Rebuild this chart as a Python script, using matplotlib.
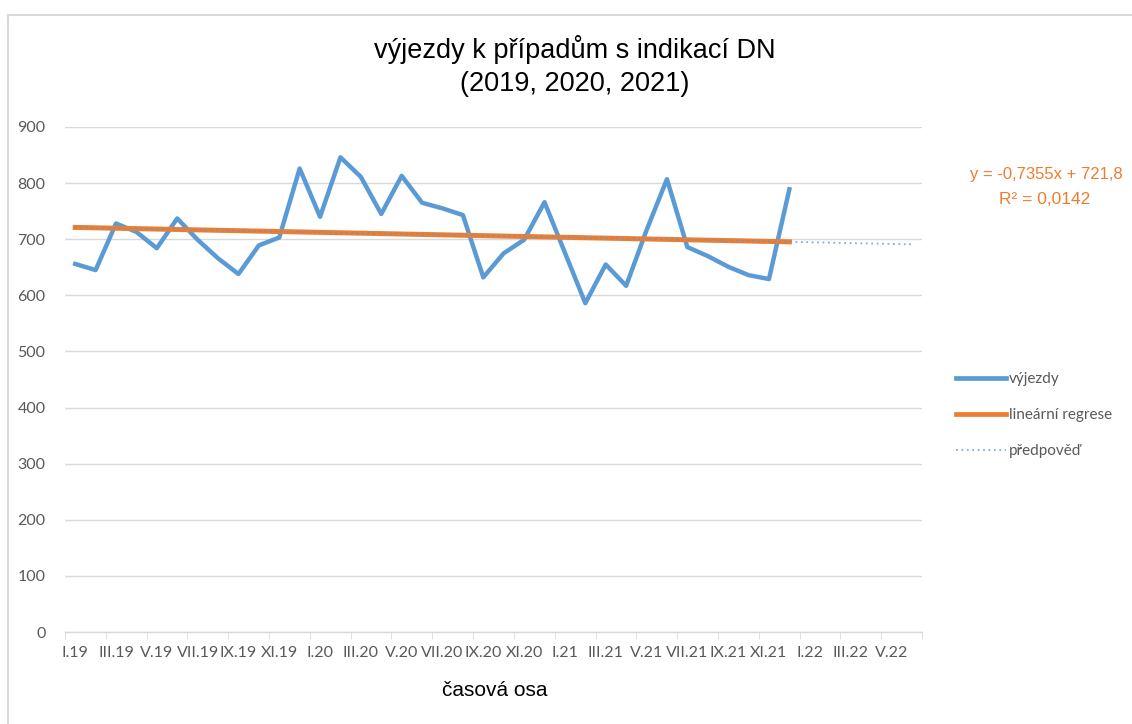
import numpy as np
import matplotlib
matplotlib.use("Agg")
import matplotlib.pyplot as plt
from matplotlib.lines import Line2D

# monthly categories I.19 .. VI.22
ROMAN = ["I", "II", "III", "IV", "V", "VI", "VII", "VIII", "IX", "X", "XI", "XII"]
YEARS = ["19", "20", "21", "22"]
MONTHS = [f"{m}.{y}" for y in YEARS for m in ROMAN][:42]

VYJEZDY = [656, 645, 728, 713, 684, 737, 699, 666, 638, 689, 703, 826,
           740, 846, 811, 745, 813, 765, 755, 743, 632, 675, 699, 766,
           676, 586, 655, 617, 716, 807, 686, 670, 651, 636, 629, 789]

SLOPE = -0.7355
INTERCEPT = 721.8
R2 = 0.0142

BLUE = "#5B9BD5"
ORANGE = "#ED7D31"
GREY_TXT = "#595959"
GRID = "#D9D9D9"

x_data = np.arange(len(VYJEZDY))
x_all = np.arange(len(MONTHS))
trend = SLOPE * (x_data + 1) + INTERCEPT
forecast = SLOPE * (x_all + 1) + INTERCEPT

fig = plt.figure(figsize=(11.32, 7.24), dpi=100)
ax = fig.add_axes([65 / 1132, 1 - 632 / 724, (922 - 65) / 1132, (632 - 127) / 724])

ax.plot(x_data, VYJEZDY, color=BLUE, linewidth=3.2, zorder=3)
ax.plot(x_data, trend, color=ORANGE, linewidth=3.6, zorder=4)
ax.plot(x_all, forecast, color=BLUE, linewidth=1.3, linestyle=(0, (1, 2)), alpha=0.8, zorder=5)

ax.set_xlim(-0.5, len(MONTHS) - 0.5)
ax.set_ylim(0, 900)
ax.set_yticks(range(0, 901, 100))
ax.grid(axis="y", color=GRID, linewidth=1.0)
ax.set_axisbelow(True)
for s in ["top", "right", "left"]:
    ax.spines[s].set_visible(False)
ax.spines["bottom"].set_color(GRID)
ax.spines["bottom"].set_linewidth(1.0)

ax.set_xticks(x_all[::2])
ax.set_xticklabels(MONTHS[::2])
ax.set_xticks(np.arange(-0.5, len(MONTHS), 2), minor=True)
ax.tick_params(axis="x", which="major", length=0, pad=10, labelsize=11.5, labelcolor=GREY_TXT)
ax.tick_params(axis="x", which="minor", length=5, color=GRID)
ax.tick_params(axis="y", length=0, pad=14, labelsize=11.5, labelcolor=GREY_TXT)
for lab in ax.get_xticklabels() + ax.get_yticklabels():
    lab.set_family(["Lato", "DejaVu Sans"])

narrow = ["Liberation Sans Narrow", "Liberation Sans", "DejaVu Sans"]
fig.text(575 / 1132, 1 - 50 / 724, "výjezdy k případům s indikací DN", ha="center", va="center",
         fontsize=19.5, family=narrow, color="black")
fig.text(575 / 1132, 1 - 84 / 724, "(2019, 2020, 2021)", ha="center", va="center",
         fontsize=19.5, family=narrow, color="black")
fig.text(495 / 1132, 1 - 690 / 724, "časová osa", ha="center", va="center",
         fontsize=15, family=narrow, color="black")

fig.text(970 / 1132, 1 - 175 / 724, f"y = {SLOPE:.4f}x + {INTERCEPT:.1f}".replace(".", ","),
         ha="left", va="center", fontsize=12, family=narrow, color=ORANGE)
fig.text(1045 / 1132, 1 - 200 / 724, f"R² = {R2:.4f}".replace(".", ","),
         ha="center", va="center", fontsize=12.5, family=narrow, color=ORANGE)

handles = [
    Line2D([], [], color=BLUE, linewidth=3.4),
    Line2D([], [], color=ORANGE, linewidth=3.4),
    Line2D([], [], color=BLUE, linewidth=1.3, linestyle=(0, (1, 2)), alpha=0.8),
]
leg = fig.legend(handles, ["výjezdy", "lineární regrese", "předpověď"],
                 loc="center left", bbox_to_anchor=(942 / 1132, 1 - 415 / 724),
                 frameon=False, handlelength=3.3, handletextpad=0.2, labelspacing=1.45,
                 prop={"family": ["Lato", "DejaVu Sans"], "size": 11})
for t in leg.get_texts():
    t.set_color(GREY_TXT)

# frame lines of the sheet
fig.add_artist(Line2D([8 / 1132, 1], [1 - 15 / 724] * 2, color="#D9D9D9", linewidth=1.5))
fig.add_artist(Line2D([8 / 1132] * 2, [0, 1 - 15 / 724], color="#D9D9D9", linewidth=1.5))

fig.savefig("out.png", dpi=100)
